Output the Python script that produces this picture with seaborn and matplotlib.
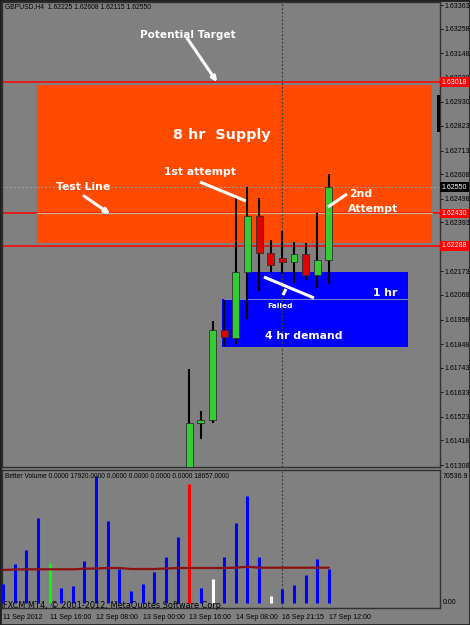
import matplotlib
matplotlib.use("Agg")
import matplotlib.pyplot as plt
import matplotlib.transforms as mtransforms
from matplotlib.patches import Rectangle
import seaborn as sns
import pandas as pd

# ---------------- data ----------------
bar_index = list(range(29))
date_tick_bars = [0, 4, 8, 12, 16, 20, 24, 28]
date_labels = ["11 Sep 2012", "11 Sep 16:00", "12 Sep 08:00", "13 Sep 00:00",
               "13 Sep 16:00", "14 Sep 08:00", "16 Sep 21:15", "17 Sep 12:00"]

candle_bars = [16, 17, 18, 19, 20, 21, 22, 23, 24, 25, 26, 27, 28]
opens  = [1.61000, 1.61498, 1.61509, 1.61911, 1.61876, 1.62170, 1.62420, 1.62255, 1.62233, 1.62215, 1.62251, 1.62157, 1.62225]
highs  = [1.61737, 1.61549, 1.61951, 1.62045, 1.62501, 1.62550, 1.62501, 1.62313, 1.62354, 1.62304, 1.62300, 1.62434, 1.62608]
lows   = [1.60950, 1.61424, 1.61495, 1.61840, 1.61849, 1.61960, 1.62087, 1.62170, 1.62161, 1.62121, 1.62135, 1.62099, 1.62115]
closes = [1.61496, 1.61507, 1.61911, 1.61880, 1.62170, 1.62420, 1.62255, 1.62202, 1.62215, 1.62251, 1.62157, 1.62224, 1.62550]

volumes = [10550, 21660, 29440, 47210, 22220, 8330, 9440, 23330, 70537, 45540,
           18880, 6670, 10550, 17220, 25550, 36660, 66090, 8330, 13330, 25550,
           44430, 59430, 25550, 3890, 7780, 10000, 15550, 24440, 18657]
volume_colors = ["blue"] * 29
volume_colors[4] = "lime"
volume_colors[16] = "red"
volume_colors[18] = "white"
volume_colors[23] = "white"
ma_values = [18330, 18610, 18720, 18720, 18720, 18720, 18720, 19050, 19160, 19440,
             19440, 18880, 18880, 18880, 19160, 19440, 19440, 19440, 19440, 19440,
             19610, 20160, 19610, 19610, 19610, 19610, 19610, 19610, 19610]

price_ticks = [1.63363, 1.63258, 1.63148, 1.63038, 1.62930, 1.62823, 1.62713, 1.62608,
               1.62498, 1.62393, 1.62173, 1.62068, 1.61958, 1.61848, 1.61743, 1.61633,
               1.61523, 1.61418, 1.61308]
red_levels = [1.63018, 1.62432, 1.62288]
red_level_labels = ["1.63018", "1.62430", "1.62288"]
bid_price = 1.62550

supply_zone = (1.62300, 1.63006)      # 8 hr supply (price low, high)
demand_1hr = (1.62050, 1.62170)
demand_4hr = (1.61835, 1.62050)

# ---------------- pixel helpers (layout only) ----------------
W, H = 470, 625
def bx(px):
    return (px - 3) / 11.64
def py(pxy):
    return 1.63363 - (pxy - 5) * 4.467e-5

sns.set_theme(style="dark")
plt.rcParams["font.family"] = ["DejaVu Sans"]
SMALL = ["Liberation Sans", "DejaVu Sans"]
BG = "#808080"
fig = plt.figure(figsize=(W / 100, H / 100), dpi=100, facecolor=BG)

ax = fig.add_axes([2 / W, (H - 467) / H, 438 / W, 465 / H])
axv = fig.add_axes([2 / W, (H - 608) / H, 438 / W, 138 / H], sharex=ax)
for a in (ax, axv):
    a.set_facecolor(BG)
    a.grid(False)
    for s in a.spines.values():
        s.set_color("#303030")
        s.set_linewidth(1.0)

ax.set_xlim(bx(2), bx(440))
ax.set_ylim(py(467), py(2))

# zones
ax.add_patch(Rectangle((bx(37), supply_zone[0]), bx(432) - bx(37), supply_zone[1] - supply_zone[0],
                       fc="#FF4A00", ec="none", zorder=1))
ax.add_patch(Rectangle((bx(247), demand_1hr[0]), bx(408) - bx(247), demand_1hr[1] - demand_1hr[0],
                       fc="#0000FF", ec="none", zorder=1))
ax.add_patch(Rectangle((bx(222), demand_4hr[0]), bx(408) - bx(222), demand_4hr[1] - demand_4hr[0],
                       fc="#0000FF", ec="none", zorder=1))
ax.plot([bx(224), bx(408)], [demand_4hr[1]] * 2, color="#9a9ac8", lw=0.6, zorder=1.5)

# horizontal lines
for lv in red_levels:
    ax.axhline(lv, color="#FF0000", lw=1.1, zorder=2)
ax.plot([bx(37), bx(432)], [red_levels[1]] * 2, color="#c8b89a", lw=0.9, zorder=2.1)
ax.axhline(bid_price, color="#a0a0a0", lw=0.7, ls=(0, (2, 2)), zorder=2)

# vertical dotted separator
for a in (ax, axv):
    a.axvline(24, color="#404040", lw=0.9, ls=(0, (1.5, 1.5)), zorder=2)

# candles
cdf = pd.DataFrame({"bar": candle_bars, "o": opens, "h": highs, "l": lows, "c": closes})
ax.vlines(cdf["bar"], cdf["l"], cdf["h"], color="black", lw=1.5, zorder=3)
bottoms = cdf[["o", "c"]].min(axis=1)
heights = (cdf["c"] - cdf["o"]).abs().clip(lower=4.5e-5)
cols = ["#33CC33" if c >= o else "#E00000" for o, c in zip(cdf["o"], cdf["c"])]
ax.bar(cdf["bar"], heights, bottom=bottoms, width=0.6, color=cols,
       edgecolor="#303030", linewidth=0.6, zorder=4)

# price axis
ax.yaxis.tick_right()
ax.set_yticks(price_ticks)
ax.set_yticklabels([f"{t:.5f}" for t in price_ticks], family=SMALL)
ax.tick_params(axis="y", length=2, width=0.6, colors="black", labelsize=5, pad=1)
ax.tick_params(axis="x", bottom=False, labelbottom=False)

blend = mtransforms.blended_transform_factory(ax.transAxes, ax.transData)
for lv, lab in zip(red_levels, red_level_labels):
    ax.text(1.004, lv, lab, transform=blend, fontsize=5, color="white", va="center", ha="left",
            family=SMALL, bbox=dict(fc="#FF0000", ec="none", pad=1.0), zorder=10, clip_on=False)
ax.text(1.004, bid_price, f"{bid_price:.5f}", transform=blend, fontsize=5, color="white",
        family=SMALL, va="center", ha="left", bbox=dict(fc="black", ec="none", pad=1.0),
        zorder=10, clip_on=False)

# header text
ax.text(bx(5), py(7), "GBPUSD,H4  1.62225 1.62608 1.62115 1.62550", fontsize=4.9,
        family=SMALL, color="black", ha="left", va="center", zorder=6)

# annotations
bold = dict(color="white", fontweight="bold", family=["DejaVu Sans"], zorder=7)
ax.text(bx(188), py(35), "Potential Target", fontsize=7.6, ha="center", va="center", **bold)
ax.text(bx(222), py(135), "8 hr  Supply", fontsize=10.3, ha="center", va="center", **bold)
ax.text(bx(200), py(172), "1st attempt", fontsize=7.8, ha="center", va="center", **bold)
ax.text(bx(83), py(187), "Test Line", fontsize=7.8, ha="center", va="center", **bold)
ax.text(bx(349), py(194), "2nd", fontsize=7.8, ha="left", va="center", **bold)
ax.text(bx(348), py(209), "Attempt", fontsize=7.8, ha="left", va="center", **bold)
ax.text(bx(280), py(306), "Failed", fontsize=5.4, ha="center", va="center", **bold)
ax.text(bx(385), py(293), "1 hr", fontsize=7.8, ha="center", va="center", **bold)
ax.text(bx(304), py(336), "4 hr demand", fontsize=7.8, ha="center", va="center", **bold)

arrow = dict(arrowstyle="-|>", color="white", lw=2.2, mutation_scale=7, shrinkA=0, shrinkB=0)
ax.annotate("", xy=(bx(217), py(82)), xytext=(bx(187), py(38)), arrowprops=arrow, zorder=7)
ax.annotate("", xy=(bx(110), py(214)), xytext=(bx(84), py(196)), arrowprops=arrow, zorder=7)
for (x0, y0), (x1, y1) in [((200, 182), (246, 201)), ((347, 194), (328, 207)),
                           ((264, 277), (314, 298)), ((286, 289), (283, 295))]:
    ax.plot([bx(x0), bx(x1)], [py(y0), py(y1)], color="white", lw=2.2,
            solid_capstyle="butt", zorder=7)

# ---------------- volume panel ----------------
vdf = pd.DataFrame({"bar": bar_index, "vol": volumes, "ma": ma_values})
axv.set_ylim(-(608 - 603) * 555.4, (603 - 470) * 555.4)
axv.vlines(vdf["bar"], 0, vdf["vol"], colors=volume_colors, lw=2.2, zorder=3)
sns.lineplot(data=vdf, x="bar", y="ma", ax=axv, color="#8B1010", lw=1.6, zorder=4)
axv.set_xlabel("")
axv.set_ylabel("")
axv.set_yticks([])
axv.set_xticks(date_tick_bars)
axv.set_xticklabels(date_labels, family=SMALL)
for t in axv.get_xticklabels():
    t.set_ha("left")
axv.tick_params(axis="x", length=3, width=0.6, colors="black", labelsize=5, pad=1.5)
axv.text(bx(5), (603 - 476) * 555.4,
         "Better Volume 0.0000 17920.0000 0.0000 0.0000 0.0000 0.0000 18657.0000",
         fontsize=4.8, family=SMALL, color="black", ha="left", va="center", zorder=6)
axv.text(bx(3), -(606 - 603) * 555.4, "FXCM MT4, \u00a9 2001-2012, MetaQuotes Software Corp.",
         fontsize=5.9, color="black", ha="left", va="center", zorder=6, clip_on=False)
vblend = mtransforms.blended_transform_factory(axv.transAxes, axv.transData)
axv.text(1.006, (603 - 476) * 555.4, "70536.9", transform=vblend, fontsize=5, color="black",
         family=SMALL, ha="left", va="center", clip_on=False)
axv.text(1.006, 0, "0.00", transform=vblend, fontsize=5, color="black",
         family=SMALL, ha="left", va="center", clip_on=False)

# small black scroll marker at right edge & outer border
fig.patches.append(Rectangle((437 / W, (H - 132) / H), 3 / W, 37 / H, transform=fig.transFigure,
                             fc="black", ec="none", zorder=5))
fig.patches.append(Rectangle((0, 0), 1, 1, transform=fig.transFigure, fill=False,
                             ec="#202020", lw=2, zorder=10))

fig.savefig("out.png", dpi=100, facecolor=BG)
